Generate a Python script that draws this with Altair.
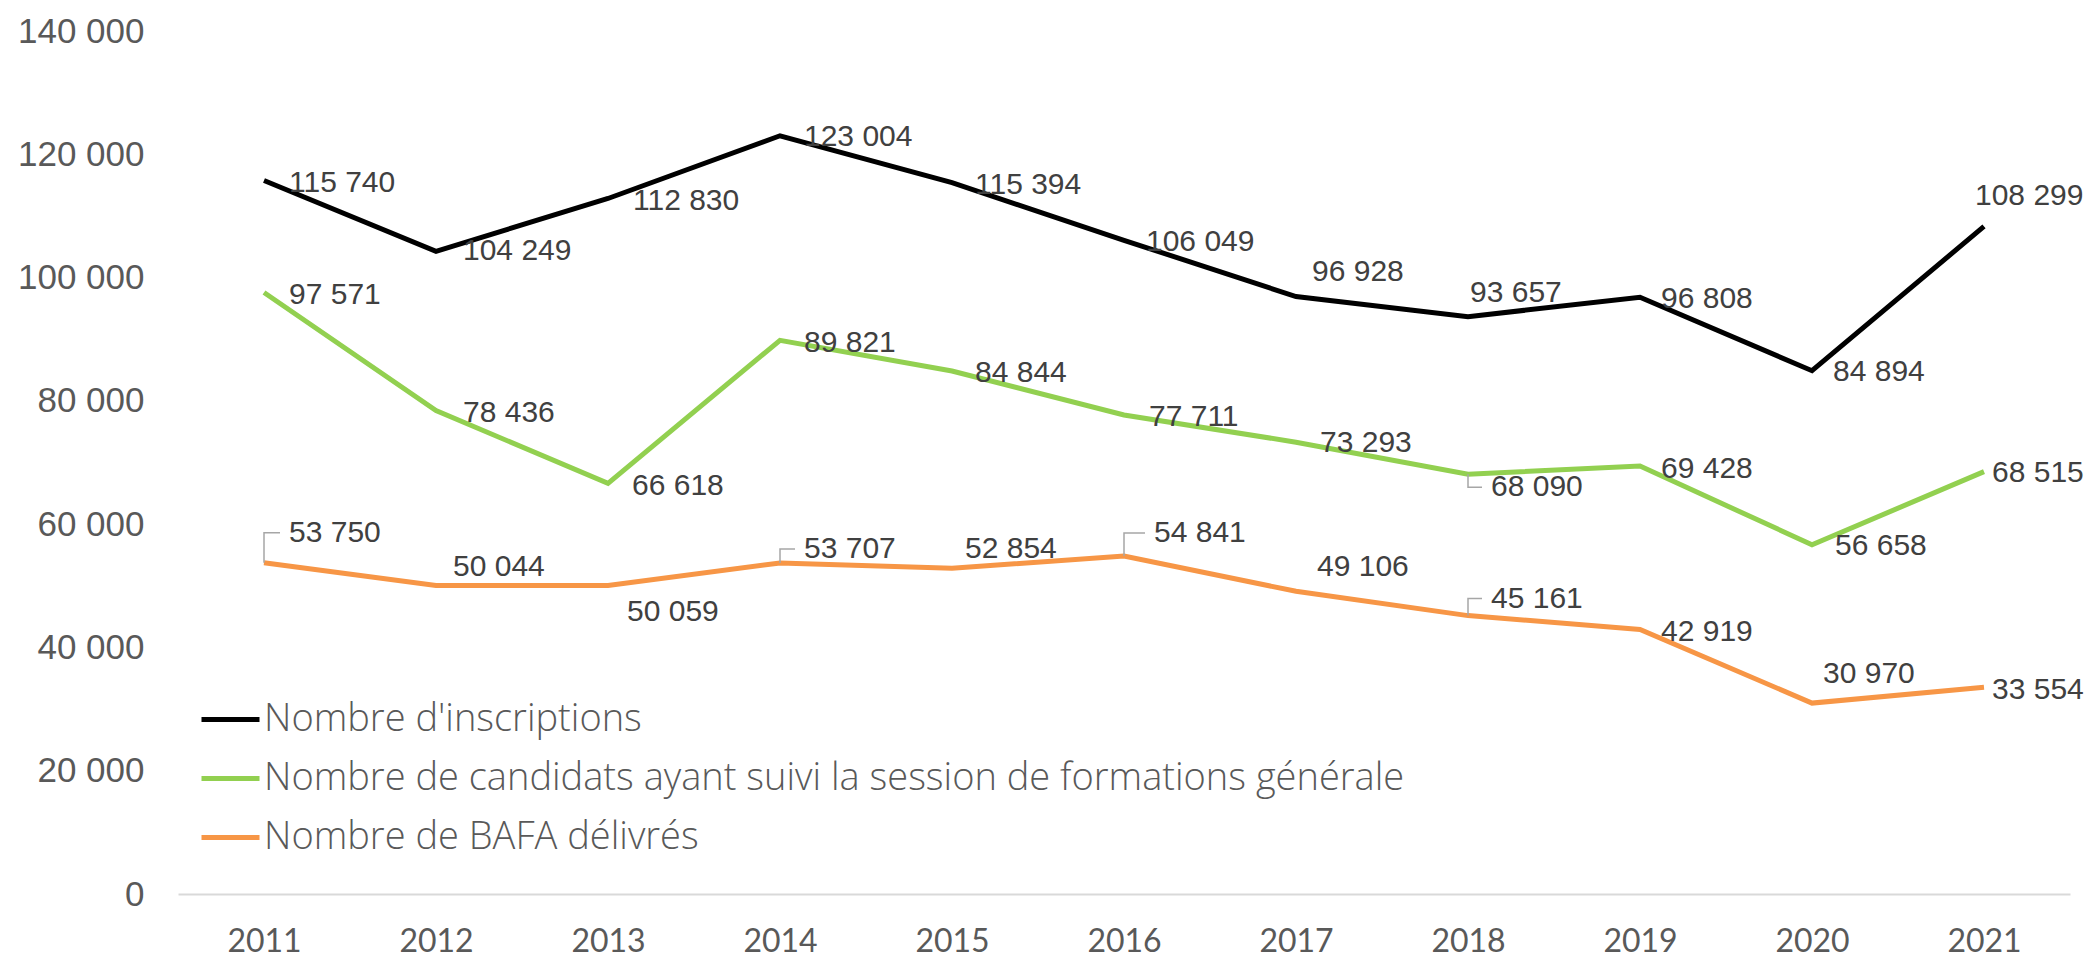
import altair as alt
import pandas as pd

# ---------------- data ----------------
years = list(range(2011, 2022))
series_names = [
    "Nombre d'inscriptions",
    "Nombre de candidats ayant suivi la session de formations générale",
    "Nombre de BAFA délivrés",
]
inscriptions = [115740, 104249, 112830, 123004, 115394, 106049, 96928, 93657, 96808, 84894, 108299]
candidats = [97571, 78436, 66618, 89821, 84844, 77711, 73293, 68090, 69428, 56658, 68515]
bafa = [53750, 50044, 50059, 53707, 52854, 54841, 49106, 45161, 42919, 30970, 33554]
y_ticks = [0, 20000, 40000, 60000, 80000, 100000, 120000, 140000]
colors = ["#000000", "#92D050", "#F79646"]

# label placement: pixel offset of each value label from its point (dx right, dy down)
label_dx = {
    series_names[0]: [25, 27, 25, 24, 23, 22, 16, 2, 21, 21, -9],
    series_names[1]: [25, 27, 24, 24, 23, 25, 24, 23, 21, 23, 8],
    series_names[2]: [25, 17, 19, 24, 13, 30, 21, 23, 21, 11, 8],
}
label_dy = {
    series_names[0]: [2, 0, 3, 1, 2, 2, -25, -24, 2, 1, -30],
    series_names[1]: [2, 3, 3, 3, 2, 2, 1, 13, 3, 1, 1],
    series_names[2]: [-30, -19, 27, -14, -19, -23, -24, -17, 3, -29, 3],
}
# labels that Excel drew with a leader line
leaders = [
    (series_names[2], 2011), (series_names[2], 2014), (series_names[2], 2016),
    (series_names[2], 2018), (series_names[1], 2018),
]

# ---------------- geometry ----------------
W, H = 1892, 863
X_MIN, X_MAX = 2010.5, 2021.5
Y_MAX = 140000
px_year = W / (X_MAX - X_MIN)
px_unit = H / Y_MAX

values = {series_names[0]: inscriptions, series_names[1]: candidats, series_names[2]: bafa}

rows, lab_rows, lead_rows = [], [], []
for s in series_names:
    for i, (yr, v) in enumerate(zip(years, values[s])):
        rows.append({"annee": yr, "valeur": v, "serie": s})
        dx, dy = label_dx[s][i], label_dy[s][i]
        lx = yr + dx / px_year
        ly = v - dy / px_unit
        lab_rows.append({"lx": lx, "ly": ly, "txt": f"{v:,}".replace(",", " ")})
        if (s, yr) in leaders:
            key = f"{s}-{yr}"
            ex = yr + (dx - 9) / px_year
            lead_rows += [
                {"k": key, "o": 0, "lx": yr, "ly": v},
                {"k": key, "o": 1, "lx": yr, "ly": ly},
                {"k": key, "o": 2, "lx": ex, "ly": ly},
            ]

df = pd.DataFrame(rows)
df_lab = pd.DataFrame(lab_rows)
df_lead = pd.DataFrame(lead_rows)

x_scale = alt.Scale(domain=[X_MIN, X_MAX], nice=False, zero=False)
y_scale = alt.Scale(domain=[0, Y_MAX], nice=False)

lines = alt.Chart(df).mark_line(strokeWidth=5, strokeJoin="miter").encode(
    x=alt.X("annee:Q", scale=x_scale, axis=alt.Axis(
        values=years, format="d", title=None, grid=False, ticks=False, tickSize=0,
        domainColor="#D9D9D9", domainWidth=2, labelPadding=32, labelFontSize=32,
        labelFont="Lato", labelColor="#595959", labelFlush=False)),
    y=alt.Y("valeur:Q", scale=y_scale, axis=alt.Axis(
        values=y_ticks, title=None, grid=False, ticks=False, tickSize=0, domain=False,
        labelExpr="replace(format(datum.value, ','), ',', ' ')",
        labelPadding=34, labelFontSize=35, labelFont="Liberation Sans",
        labelColor="#595959")),
    color=alt.Color("serie:N", scale=alt.Scale(domain=series_names, range=colors),
                    sort=series_names,
                    legend=alt.Legend(
                        title=None, orient="none", legendX=21, legendY=657,
                        symbolType="stroke", symbolSize=3364, symbolStrokeWidth=5,
                        labelFontSize=38, labelFont="Open Sans", labelFontWeight=300,
                        labelColor="#595959",
                        labelOffset=2, rowPadding=8, padding=0, labelLimit=2000)),
    detail="serie:N",
)

leader_lines = alt.Chart(df_lead).mark_line(strokeWidth=1.5, color="#A6A6A6").encode(
    x=alt.X("lx:Q", scale=x_scale),
    y=alt.Y("ly:Q", scale=y_scale),
    detail="k:N",
    order="o:Q",
)

labels = alt.Chart(df_lab).mark_text(
    align="left", baseline="middle", fontSize=30, font="Liberation Sans", color="#404040"
).encode(
    x=alt.X("lx:Q", scale=x_scale),
    y=alt.Y("ly:Q", scale=y_scale),
    text="txt:N",
)

chart = alt.layer(lines, leader_lines, labels).properties(
    width=W, height=H,
    background="white",
    autosize=alt.AutoSizeParams(type="none"),
    padding={"left": 170, "top": 23, "right": 15, "bottom": 64},
).configure_view(stroke=None)

chart.save("out.html", embed_options={"renderer": "svg", "actions": False})
